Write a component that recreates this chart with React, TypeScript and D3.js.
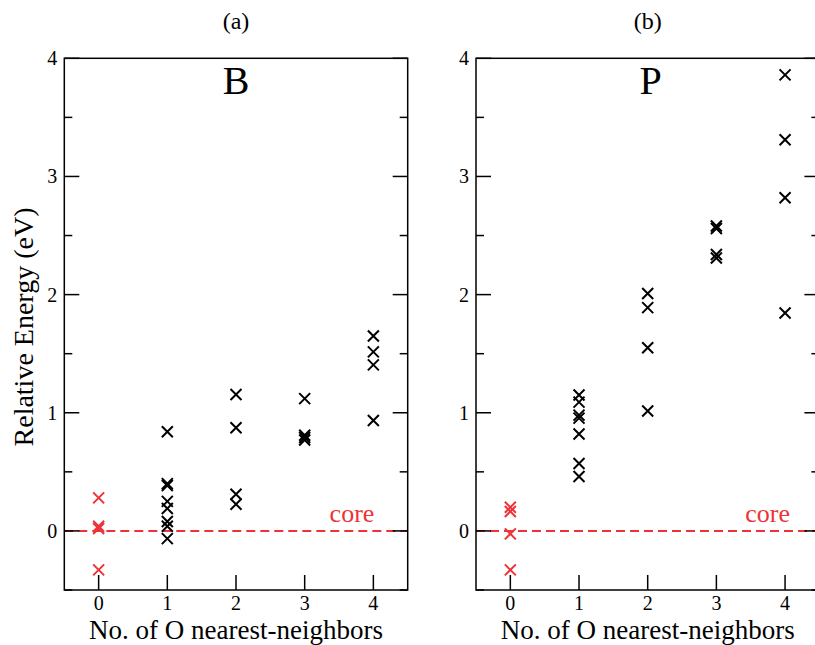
import React from "react";
import * as d3 from "d3";

const categories = [0, 1, 2, 3, 4];
const yMajorTicks = [0, 1, 2, 3, 4];
const yMinorTicks = [-0.5, 0.5, 1.5, 2.5, 3.5];

// Panel (a): B
const bCore = [0.28, 0.04, 0.02, -0.33];
const bN1 = [0.84, 0.40, 0.385, 0.25, 0.19, 0.08, 0.04, -0.065];
const bN2 = [1.155, 0.873, 0.31, 0.226];
const bN3 = [1.12, 0.81, 0.79, 0.77];
const bN4 = [1.65, 1.515, 1.405, 0.935];

// Panel (b): P
const pCore = [0.20, 0.165, -0.025, -0.33];
const pN1 = [1.15, 1.09, 0.98, 0.955, 0.82, 0.57, 0.46];
const pN2 = [2.01, 1.89, 1.55, 1.015];
const pN3 = [2.58, 2.56, 2.34, 2.31];
const pN4 = [3.86, 3.31, 2.82, 1.845];

const panels = [
  { title: "(a)", label: "B", core: bCore, groups: [bN1, bN2, bN3, bN4], left: 64.3, tickLabels: true },
  { title: "(b)", label: "P", core: pCore, groups: [pN1, pN2, pN3, pN4], left: 476, tickLabels: true },
];

const RED = "#ee3338";
const FONT = "'Liberation Serif', 'DejaVu Serif', serif";
const W = 343.4;
const TOP = 58.3;
const BOTTOM = 590;

function Cross({ x, y, color }: { x: number; y: number; color: string }) {
  const s = 5.5;
  return (
    <path
      d={`M${x - s},${y - s}L${x + s},${y + s}M${x - s},${y + s}L${x + s},${y - s}`}
      stroke={color}
      strokeWidth={2}
      fill="none"
    />
  );
}

function Panel({ p }: { p: (typeof panels)[number] }) {
  const x = d3.scaleLinear().domain([-0.5, 4.5]).range([p.left, p.left + W]);
  const y = d3.scaleLinear().domain([-0.5, 4]).range([BOTTOM, TOP]);
  const x0 = x(-0.5);
  const x1 = x(4.5);
  const cx = (x0 + x1) / 2;
  return (
    <g>
      <text x={cx} y={29} textAnchor="middle" fontFamily={FONT} fontSize={24}>
        {p.title}
      </text>
      <text x={cx + (p.label === "P" ? 3 : 0)} y={94} textAnchor="middle" fontFamily={FONT} fontSize={40}>
        {p.label}
      </text>
      {/* core dashed line */}
      <line x1={x0} x2={x1} y1={y(0)} y2={y(0)} stroke={RED} strokeWidth={2} strokeDasharray="9,5" />
      <text x={x(4) + (p.label === "P" ? 5 : 1)} y={522} textAnchor="end" fontFamily={FONT} fontSize={26} fill={RED}>
        core
      </text>
      {/* ticks */}
      {yMajorTicks.map((t) => (
        <g key={"M" + t}>
          <line x1={x0} x2={x0 + 15} y1={y(t)} y2={y(t)} stroke="#000" strokeWidth={1.5} />
          <line x1={x1} x2={x1 - 15} y1={y(t)} y2={y(t)} stroke="#000" strokeWidth={1.5} />
          {p.tickLabels && (
            <text x={x0 - 7} y={y(t) + 7} textAnchor="end" fontFamily={FONT} fontSize={20}>
              {t}
            </text>
          )}
        </g>
      ))}
      {yMinorTicks.map((t) => (
        <g key={"m" + t}>
          <line x1={x0} x2={x0 + 8} y1={y(t)} y2={y(t)} stroke="#000" strokeWidth={1.5} />
          <line x1={x1} x2={x1 - 8} y1={y(t)} y2={y(t)} stroke="#000" strokeWidth={1.5} />
        </g>
      ))}
      {categories.map((c) => (
        <g key={"x" + c}>
          <line x1={x(c)} x2={x(c)} y1={BOTTOM} y2={BOTTOM - 15} stroke="#000" strokeWidth={1.5} />
          <text x={x(c)} y={609.5} textAnchor="middle" fontFamily={FONT} fontSize={20}>
            {c}
          </text>
        </g>
      ))}
      {/* frame */}
      <rect x={x0} y={TOP} width={x1 - x0} height={BOTTOM - TOP} fill="none" stroke="#000" strokeWidth={1.5} />
      {/* data */}
      {p.core.map((v, i) => (
        <Cross key={"c" + i} x={x(0)} y={y(v)} color={RED} />
      ))}
      {p.groups.map((g, gi) =>
        g.map((v, i) => <Cross key={`g${gi}-${i}`} x={x(categories[gi + 1])} y={y(v)} color="#000" />)
      )}
      <text x={cx} y={638.5} textAnchor="middle" fontFamily={FONT} fontSize={27}>
        No. of O nearest-neighbors
      </text>
    </g>
  );
}

export default function App() {
  return (
    <div style={{ position: "absolute", left: 0, top: 0 }}>
      <svg width={815} height={645} style={{ display: "block", background: "#fff" }}>
        <rect x={0} y={0} width={815} height={645} fill="#fff" />
        {panels.map((p) => (
          <Panel key={p.title} p={p} />
        ))}
        <text
          transform={`translate(32.5, 327) rotate(-90)`}
          textAnchor="middle"
          fontFamily={FONT}
          fontSize={28}
        >
          Relative Energy (eV)
        </text>
      </svg>
    </div>
  );
}
